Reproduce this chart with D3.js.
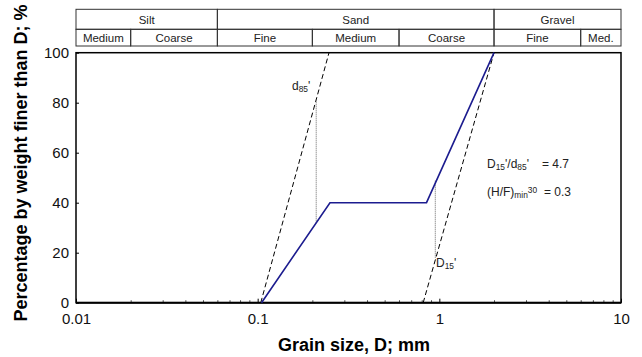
<!DOCTYPE html>
<html>
<head>
<meta charset="utf-8">
<script src="https://cdn.jsdelivr.net/npm/d3@7"></script>
<style>
  body { margin: 0; background: #fff; }
  svg { font-family: "Liberation Sans", Arial, sans-serif; }
</style>
</head>
<body>
<div id="viz"></div>
<script>
// size of the page
const width = 642
const height = 357

// plot area (frame) in pixels
const plotLeft = 76, plotRight = 621, plotTop = 52.7, plotBottom = 302.7

// soil classes shown in the header table
const mainClasses = ["Silt", "Sand", "Gravel"]
const mainBounds = [0.01, 0.06, 2, 10]
const subClasses = ["Medium", "Coarse", "Fine", "Medium", "Coarse", "Fine", "Med."]
const subBounds = [0.01, 0.02, 0.06, 0.2, 0.6, 2, 6, 10]

// grading curve (gap graded)
const gradSize = [0.105, 0.25, 0.85, 2.0]
const gradPct = [0, 40, 40, 100]

// fine fraction and coarse fraction, rescaled to 100 %
const fineSize = [0.104, 0.247]
const finePct = [0, 100]
const coarseSize = [0.815, 2.0]
const coarsePct = [0, 100]

// dotted guides for d85' and D15'
const guideSize = [0.21, 0.95]
const guideFrom = [32, 18]
const guideTo = [81, 49]

// tick values
const xMajor = [0.01, 0.1, 1, 10]
const xMinor = [0.02, 0.03, 0.04, 0.05, 0.06, 0.07, 0.08, 0.09,
                0.2, 0.3, 0.4, 0.5, 0.6, 0.7, 0.8, 0.9,
                2, 3, 4, 5, 6, 7, 8, 9]
const yTicks = [0, 20, 40, 60, 80, 100]

const svg = d3.select("#viz")
  .append("svg")
  .attr("width", width)
  .attr("height", height)

const x = d3.scaleLog().domain([0.01, 10]).range([plotLeft, plotRight])
const y = d3.scaleLinear().domain([0, 100]).range([plotBottom, plotTop])

// header table
const headTop = 9.3, headMid = 29.3, headBot = 46
const head = svg.append("g")
mainClasses.forEach(function (c, i) {
  const x0 = x(mainBounds[i]), x1 = x(mainBounds[i + 1])
  head.append("rect")
    .attr("x", x0).attr("y", headTop)
    .attr("width", x1 - x0).attr("height", headMid - headTop)
    .attr("fill", "none").attr("stroke", "#333").attr("stroke-width", 1)
  head.append("text")
    .attr("x", (x0 + x1) / 2).attr("y", headMid - 5)
    .attr("text-anchor", "middle").attr("font-size", 11.5).attr("fill", "#222")
    .text(c)
})
subClasses.forEach(function (c, i) {
  const x0 = x(subBounds[i]), x1 = x(subBounds[i + 1])
  head.append("rect")
    .attr("x", x0).attr("y", headMid)
    .attr("width", x1 - x0).attr("height", headBot - headMid)
    .attr("fill", "none").attr("stroke", "#333").attr("stroke-width", 1)
  head.append("text")
    .attr("x", (x0 + x1) / 2).attr("y", headBot - 4)
    .attr("text-anchor", "middle").attr("font-size", 11.5).attr("fill", "#222")
    .text(c)
})

// axes, ticks point inward
const xAxis = svg.append("g")
  .attr("transform", "translate(0," + plotBottom + ")")
  .call(d3.axisBottom(x).tickValues(xMajor).tickSize(-4).tickPadding(11)
    .tickFormat(function (d) { return d }))
xAxis.selectAll("text").attr("font-size", 15).attr("fill", "#111")
xAxis.attr("font-family", null)
xAxis.select(".domain").remove()

const xMinorAxis = svg.append("g")
  .attr("transform", "translate(0," + plotBottom + ")")
  .call(d3.axisBottom(x).tickValues(xMinor).tickSize(-2.5).tickFormat(""))
xMinorAxis.select(".domain").remove()
xMinorAxis.selectAll("line").attr("stroke", "#555")

const yAxis = svg.append("g")
  .attr("transform", "translate(" + plotLeft + ",0)")
  .call(d3.axisLeft(y).tickValues(yTicks).tickSize(-3).tickPadding(7))
yAxis.selectAll("text").attr("font-size", 15).attr("fill", "#111")
yAxis.attr("font-family", null)
yAxis.select(".domain").remove()

// frame
svg.append("rect")
  .attr("x", plotLeft).attr("y", plotTop)
  .attr("width", plotRight - plotLeft).attr("height", plotBottom - plotTop)
  .attr("fill", "none").attr("stroke", "#000").attr("stroke-width", 1.5)
svg.append("line")
  .attr("x1", plotLeft).attr("x2", plotRight).attr("y1", plotBottom).attr("y2", plotBottom)
  .attr("stroke", "#000").attr("stroke-width", 2)

// lines
const line = d3.line()
  .x(function (d) { return x(d[0]) })
  .y(function (d) { return y(d[1]) })

svg.append("path")
  .datum(d3.zip(fineSize, finePct))
  .attr("d", line)
  .attr("fill", "none").attr("stroke", "#000").attr("stroke-width", 1)
  .attr("stroke-dasharray", "5,3")

svg.append("path")
  .datum(d3.zip(coarseSize, coarsePct))
  .attr("d", line)
  .attr("fill", "none").attr("stroke", "#000").attr("stroke-width", 1)
  .attr("stroke-dasharray", "5,3")

guideSize.forEach(function (s, i) {
  svg.append("line")
    .attr("x1", x(s)).attr("x2", x(s))
    .attr("y1", y(guideFrom[i])).attr("y2", y(guideTo[i]))
    .attr("stroke", "#666").attr("stroke-width", 1)
    .attr("stroke-dasharray", "1,1")
})

svg.append("path")
  .datum(d3.zip(gradSize, gradPct))
  .attr("d", line)
  .attr("fill", "none").attr("stroke", "#1c1c8f").attr("stroke-width", 1.6)

// helper for labels with sub/superscripts
function richText(g, xPos, yPos, parts, size) {
  const t = g.append("text")
    .attr("x", xPos).attr("y", yPos)
    .attr("font-size", size).attr("fill", "#222")
  parts.forEach(function (p) {
    t.append("tspan")
      .attr("baseline-shift", p[1] == "sub" ? "-25%" : p[1] == "sup" ? "35%" : null)
      .attr("font-size", p[1] ? size * 0.7 : size)
      .text(p[0])
  })
  return t
}

richText(svg, 292, 90, [["d"], ["85", "sub"], ["'"]], 12)
richText(svg, 436, 267, [["D"], ["15", "sub"], ["'"]], 12)
richText(svg, 487, 168, [["D"], ["15", "sub"], ["'/d"], ["85", "sub"], ["'"]], 12)
svg.append("text").attr("x", 542).attr("y", 168)
  .attr("font-size", 12).attr("fill", "#222").text("= 4.7")
richText(svg, 487, 196, [["(H/F)"], ["min", "sub"], ["30", "sup"]], 12)
svg.append("text").attr("x", 544).attr("y", 196)
  .attr("font-size", 12).attr("fill", "#222").text("= 0.3")

// axis titles
svg.append("text")
  .attr("x", 354).attr("y", 351)
  .attr("text-anchor", "middle").attr("font-size", 18).attr("font-weight", "bold")
  .text("Grain size, D; mm")

svg.append("text")
  .attr("transform", "translate(27,163) rotate(-90)")
  .attr("text-anchor", "middle").attr("font-size", 18).attr("font-weight", "bold")
  .text("Percentage by weight finer than D; %")
</script>
</body>
</html>
